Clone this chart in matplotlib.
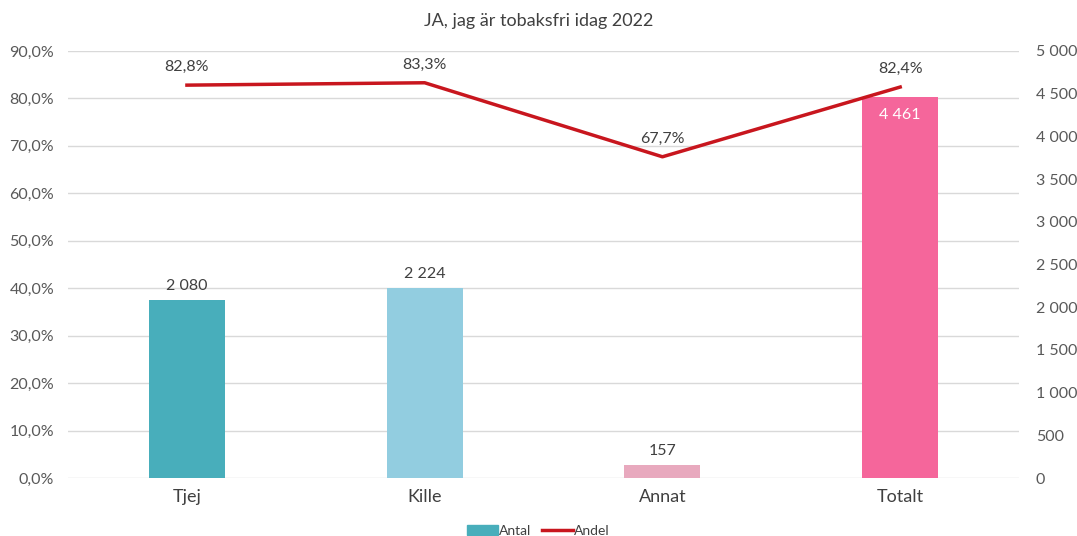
import matplotlib.pyplot as plt
from matplotlib.patches import Patch
from matplotlib.lines import Line2D

plt.rcParams['font.family'] = ['Lato', 'DejaVu Sans']

kategorier = ["Tjej", "Kille", "Annat", "Totalt"]
antal = [2080, 2224, 157, 4461]
andel = [82.8, 83.3, 67.7, 82.4]
farger = ["#48AEBB", "#92CDE0", "#E8A9BE", "#F5669B"]
linjefarg = "#C8161E"
textfarg = "#595959"


def sv(x, dec=1):
    return ("{:." + str(dec) + "f}").format(x).replace(".", ",")


def tusen(x):
    return "{:,}".format(int(x)).replace(",", " ")


fig = plt.figure(figsize=(10.77, 5.36), dpi=100)
ax = fig.add_axes([0.0632, 0.1082, 0.8830, 0.7967])
ax2 = ax.twinx()

x = list(range(len(kategorier)))

# staplar på höger axel
ax2.bar(x, antal, width=0.32, color=farger, zorder=2)
ax2.set_ylim(0, 5000)
ax2.set_yticks(range(0, 5001, 500))
ax2.set_yticklabels([tusen(v) for v in range(0, 5001, 500)])
for i, v in enumerate(antal):
    if i == 3:
        ax2.annotate(tusen(v), (i, v), xytext=(0, -8), textcoords="offset points",
                     ha="center", va="top", color="white", fontsize=11.5)
    else:
        ax2.annotate(tusen(v), (i, v), xytext=(0, 5), textcoords="offset points",
                     ha="center", va="bottom", color="#404040", fontsize=11.5)

# linje på vänster axel
ax.set_ylim(0, 90)
ax.set_yticks(range(0, 91, 10))
ax.set_yticklabels([sv(v) + "%" for v in range(0, 91, 10)])
ax.grid(axis="y", color="#D9D9D9", linewidth=1)
ax.set_axisbelow(True)

ax3 = ax.twinx()
ax3.set_ylim(0, 90)
ax3.axis("off")
ax3.plot(x, andel, color=linjefarg, linewidth=2.5, zorder=3)
for i, v in enumerate(andel):
    ax3.annotate(sv(v) + "%", (i, v), xytext=(0, 8), textcoords="offset points",
                 ha="center", va="bottom", color="#404040", fontsize=11.5)

ax.set_xlim(-0.5, 3.5)
ax.set_xticks(x)
ax.set_xticklabels(kategorier, fontsize=13, color="#404040")

for a in (ax, ax2):
    for s in a.spines.values():
        s.set_visible(False)
    a.tick_params(length=0)
ax.tick_params(axis="y", labelsize=11.5, labelcolor=textfarg, pad=10)
ax2.tick_params(axis="y", labelsize=11.5, labelcolor=textfarg, pad=12)
ax.tick_params(axis="x", pad=8)

fig.text(0.5, 0.96, "JA, jag är tobaksfri idag 2022", ha="center", va="center",
         fontsize=13, color="#404040")

handles = [Patch(color=farger[0], label="Antal"),
           Line2D([], [], color=linjefarg, linewidth=2.5, label="Andel")]
fig.legend(handles=handles, loc="center", bbox_to_anchor=(0.5, 0.01), ncol=2,
           frameon=False, fontsize=10, handlelength=2.2, handletextpad=0.1,
           columnspacing=0.8, labelcolor="#404040")

fig.savefig("out.png", dpi=100)
